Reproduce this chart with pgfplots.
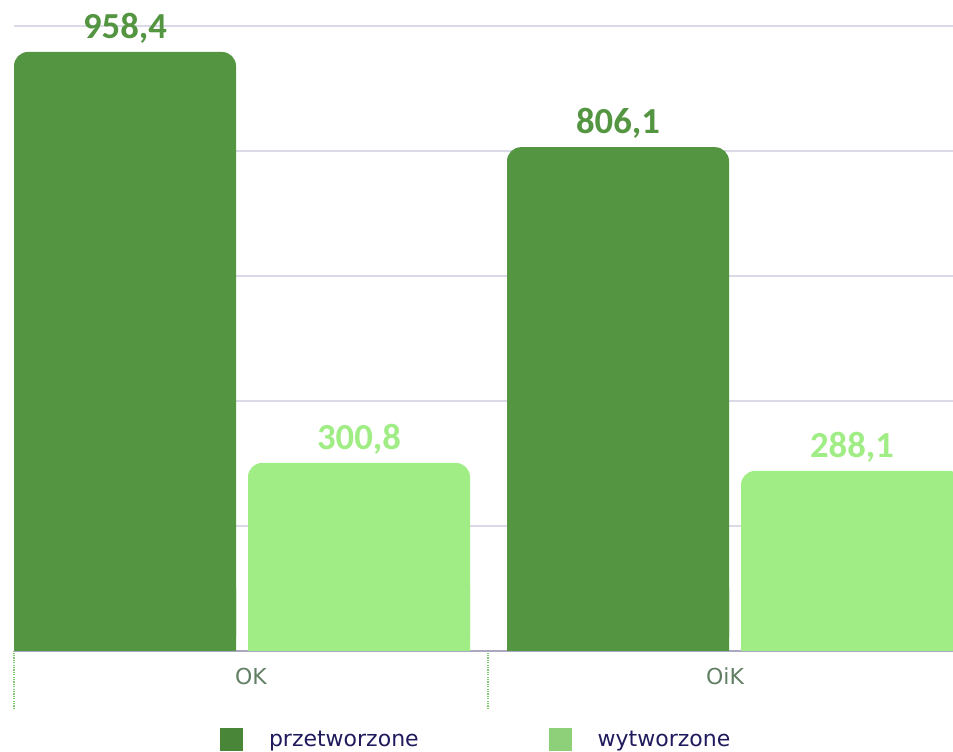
\documentclass[border=0pt]{standalone}
\usepackage{fontspec}
\setmainfont{DejaVu Sans}
\newfontfamily\carlito{Carlito}
\usepackage{pgfplots}
\pgfplotsset{compat=1.18}
\definecolor{barD}{HTML}{539540}
\definecolor{barL}{HTML}{A0ED85}
\definecolor{legD}{HTML}{4A8638}
\definecolor{legL}{HTML}{8ECF79}
\definecolor{labc}{HTML}{627F64}
\definecolor{legtxt}{HTML}{1E1A5C}
\definecolor{gridc}{HTML}{D9D9E8}
\definecolor{axisc}{HTML}{ABA8C4}
\definecolor{dotc}{HTML}{7FCB6E}
\begin{document}
\begin{tikzpicture}
\useasboundingbox (0,0) rectangle (714.75pt,564pt);
\clip (0,0) rectangle (714.75pt,564pt);
\begin{axis}[
  at={(10.5pt,75.75pt)}, anchor=south west,
  scale only axis,
  width=704.25pt, height=468.75pt,
  xmin=14, xmax=953, ymin=0, ymax=1000,
  clip=false,
  axis x line*=bottom, axis y line*=left,
  y axis line style={draw=none},
  x axis line style={draw=axisc, line width=1.1pt},
  ytick={0,200,...,1000}, yticklabels={},
  ymajorgrids, grid style={draw=gridc, line width=1.1pt},
  major tick length=0pt,
  xtick={251,725}, xticklabels={OK,OiK},
  minor xtick={14,488}, minor tick length=43.5pt, tick align=outside,
  minor x tick style={draw=dotc, line width=1.2pt, dash pattern=on 0.9pt off 0.9pt},
  xticklabel style={font=\fontsize{16.5pt}{19pt}\selectfont, text=labc, inner sep=0pt, yshift=-12.75pt, anchor=north},
  legend columns=2,
  legend style={at={(0.2194,-0.1232)}, anchor=north west, draw=none, fill=none,
    inner sep=0pt, outer sep=0pt,
    font=\fontsize{16.5pt}{19pt}\selectfont,
    cells={anchor=base west},
    nodes={inner sep=0pt, text=legtxt},
    /tikz/every odd column/.append style={column sep=19.5pt},
    /tikz/every even column/.append style={column sep=97.5pt}},
  legend image code/.code={\fill[#1] (0pt,-3pt) rectangle (17.25pt,14.25pt);},
  /pgf/number format/use comma,
  /pgf/number format/fixed,
  /pgf/number format/fixed zerofill,
  /pgf/number format/precision=1,
  /pgf/number format/assume math mode=true,
]
% przetworzone
\addplot[ybar, bar width=222, bar shift=0pt, fill=barD, draw=none, rounded corners=10.5pt, forget plot,
  nodes near coords,
  every node near coord/.append style={font=\carlito\bfseries\fontsize{27.5pt}{30pt}\selectfont, text=barD, fill=none, anchor=base, yshift=10.1pt, inner sep=0pt}]
  coordinates {(125,958.4) (618,806.1)};
\addplot[ybar, bar width=222, bar shift=0pt, fill=barD, draw=none, forget plot, y filter/.expression={min(y,100)}]
  coordinates {(125,958.4) (618,806.1)};
% wytworzone
\addplot[ybar, bar width=222, bar shift=0pt, fill=barL, draw=none, rounded corners=10.5pt, forget plot,
  nodes near coords,
  every node near coord/.append style={font=\carlito\bfseries\fontsize{27.5pt}{30pt}\selectfont, text=barL, fill=none, anchor=base, yshift=10.1pt, inner sep=0pt}]
  coordinates {(359,300.8) (852,288.1)};
\addplot[ybar, bar width=222, bar shift=0pt, fill=barL, draw=none, forget plot, y filter/.expression={min(y,100)}]
  coordinates {(359,300.8) (852,288.1)};
\addlegendimage{fill=legD, draw=none}
\addlegendentry{przetworzone}
\addlegendimage{fill=legL, draw=none}
\addlegendentry{wytworzone}
\end{axis}
\end{tikzpicture}
\end{document}
